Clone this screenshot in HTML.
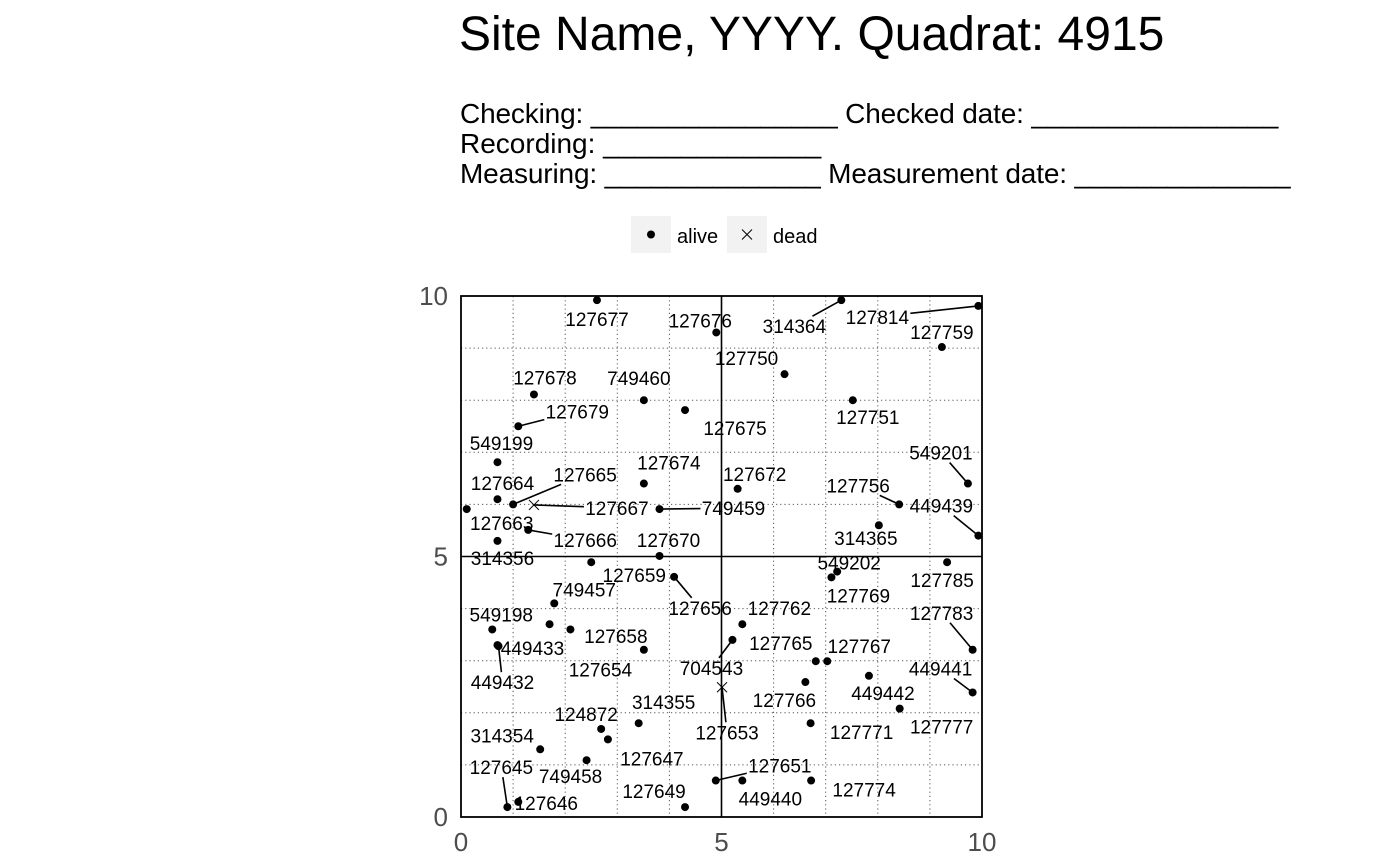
<!DOCTYPE html>
<html><head><meta charset="utf-8"><style>
body{margin:0;background:#fff;width:1400px;height:865px;overflow:hidden;font-family:"Liberation Sans",Arial,sans-serif}
.t{position:absolute;white-space:nowrap;color:#000}
</style></head><body>
<div class="t" style="left:459px;top:7px;font-size:48px">Site Name, YYYY. Quadrat: 4915</div>
<div class="t" style="left:460px;top:99px;font-size:28px;line-height:30px;letter-spacing:-0.15px">Checking: ________________ Checked date: ________________</div>
<div class="t" style="left:460px;top:129px;font-size:28px;line-height:30px">Recording: ______________</div>
<div class="t" style="left:460px;top:159px;font-size:28px;line-height:30px;letter-spacing:-0.15px">Measuring: ______________ Measurement date: ______________</div>
<svg id="chart" width="1400" height="865" style="position:absolute;left:0;top:0" font-family="Liberation Sans, Arial, sans-serif">
<g>
<rect x="631" y="216" width="40" height="37" fill="#f2f2f2"/>
<circle cx="651" cy="234.5" r="4" fill="#000"/>
<text x="677" y="243" font-size="20">alive</text>
<rect x="727" y="216" width="40" height="37" fill="#f2f2f2"/>
<path d="M742 229.5 l10 10 M752 229.5 l-10 10" stroke="#000" stroke-width="1"/>
<text x="773" y="243" font-size="20">dead</text>
</g>
<g id="grid"></g><g id="marks"></g><g id="axes"></g>
</svg>
<script>
const ids=["127677","127676","127678","749460","127675","127679","549199","127674","127664","127665","127667","127663","749459","127666","314356","127670","127659","127656","749457","","127654","549198","127658","449433","449432","314355","124872","127647","314354","749458","127645","127646","127649","127653","127651","449440","127774","127771","127777","127766","449442","127765","127767","704543","127762","127783","449441","549202","127769","127785","314365","449439","127756","549201","127672","127751","127750","127759","127814","314364"];
const xs=[2.61,4.90,1.40,3.51,4.30,1.10,0.70,3.51,0.70,1.00,1.40,0.11,3.81,1.29,0.70,3.81,2.50,4.09,1.79,1.70,2.10,0.60,3.51,0.70,0.72,3.41,2.69,2.82,1.52,2.41,0.89,1.10,4.30,5.01,4.89,5.40,6.72,6.71,8.42,6.61,7.83,6.81,7.03,5.21,5.40,9.82,9.82,7.22,7.11,9.33,8.02,9.93,8.41,9.73,5.31,7.52,6.21,9.23,9.93,7.30];
const ys=[9.92,9.30,8.11,8.00,7.81,7.50,6.81,6.40,6.10,6.00,5.99,5.91,5.91,5.51,5.30,5.01,4.89,4.61,4.10,3.70,3.60,3.60,3.21,3.30,3.28,1.80,1.69,1.49,1.30,1.09,0.19,0.29,0.19,2.49,0.70,0.70,0.70,1.80,2.08,2.59,2.71,2.99,2.99,3.40,3.70,3.21,2.39,4.71,4.60,4.89,5.60,5.40,6.00,6.40,6.30,8.00,8.50,9.02,9.81,9.92];
const status=ids.map((d,i)=>(i===10||i===33)?"dead":"alive");
const ticks=[0,5,10];
// label placement offsets (px) from repel layout
const labelOffsets=[[0,19],[-16,-12],[11,-17],[-5,-22],[50,18],[59,-15],[4,-19],[25,-21],[5,-16],[72,-30],[83,3],[35,14],[74,-1],[57,10],[5,17],[9,-16],[43,13],[26,31],[30,-14],[0,0],[30,40],[9,-15],[-28,-14],[35,3],[4,36],[25,-21],[-15,-15],[44,19],[-38,-14],[-16,16],[-6,-40],[28,1],[-31,-16],[5,45],[64,-15],[28,18],[53,9],[51,9],[42,18],[-21,18],[14,17],[-35,-18],[32,-15],[-21,28],[37,-16],[-31,-37],[-32,-24],[12,-9],[27,18],[-5,18],[-13,13],[-37,-30],[-41,-19],[-27,-31],[17,-15],[15,17],[-38,-16],[0,-15],[-101,11],[-47,26]];
const leaderIds=["127679","127665","127667","749459","127666","127656","449432","127645","127653","127651","704543","127783","449441","449439","127756","549201","127814","314364"];
const X0=461,X1=982,Y0=817,Y1=296;
const sx=v=>X0+(X1-X0)*v/10, sy=v=>Y0-(Y0-Y1)*v/10;
const NS="http://www.w3.org/2000/svg";
function mk(tag,attrs,parent){const e=document.createElementNS(NS,tag);for(const k in attrs)e.setAttribute(k,attrs[k]);parent.appendChild(e);return e;}
const grid=document.getElementById('grid'),marks=document.getElementById('marks'),axes=document.getElementById('axes');
for(let i=1;i<10;i++){if(i===5)continue;
 const a=mk('line',{x1:sx(i),x2:sx(i),y1:Y1,y2:Y0,stroke:'#555','stroke-width':1,'stroke-dasharray':'1.2 3'},grid);
 
 
 const b=mk('line',{x1:X0,x2:X1,y1:sy(i),y2:sy(i),stroke:'#555','stroke-width':1,'stroke-dasharray':'1.2 3'},grid);
 
 }
const cv=mk('line',{x1:sx(5),x2:sx(5),y1:Y1,y2:Y0,stroke:'#000','stroke-width':1.6},grid);


const ch=mk('line',{x1:X0,x2:X1,y1:sy(5),y2:sy(5),stroke:'#000','stroke-width':1.6},grid);


ids.forEach((id,i)=>{
 const px=sx(xs[i]),py=sy(ys[i]);
 const [dx,dy]=labelOffsets[i];
 if(id && leaderIds.includes(id)){
  const t=Math.min(dx?33/Math.abs(dx):9e9,dy?10/Math.abs(dy):9e9);
  if(t<1){const seg=mk('line',{x1:px,y1:py,x2:px+dx*(1-t),y2:py+dy*(1-t),stroke:'#000','stroke-width':1.6},marks);
   
   }
 }
 let m;
 if(status[i]==='dead'){m=mk('path',{d:`M${px-5} ${py-5}l10 10M${px+5} ${py-5}l-10 10`,stroke:'#000','stroke-width':1},marks);}
 else{m=mk('circle',{cx:px,cy:py,r:4,fill:'#000'},marks);}
 
 
 if(id){const tx=mk('text',{x:px+dx,y:py+dy+7,'font-size':19,'text-anchor':'middle'},marks);tx.textContent=id;
  
  }
});
const fr=mk('rect',{x:X0,y:Y1,width:X1-X0,height:Y0-Y1,fill:'none',stroke:'#000','stroke-width':1.8},axes);


ticks.forEach(v=>{
 const a=mk('text',{x:sx(v),y:Y0+34,'font-size':26,'text-anchor':'middle',fill:'#4d4d4d'},axes);a.textContent=v;
 
 
 const b=mk('text',{x:X0-13,y:sy(v)+9,'font-size':26,'text-anchor':'end',fill:'#4d4d4d'},axes);b.textContent=v;
 
 
});
</script>
</body></html>
